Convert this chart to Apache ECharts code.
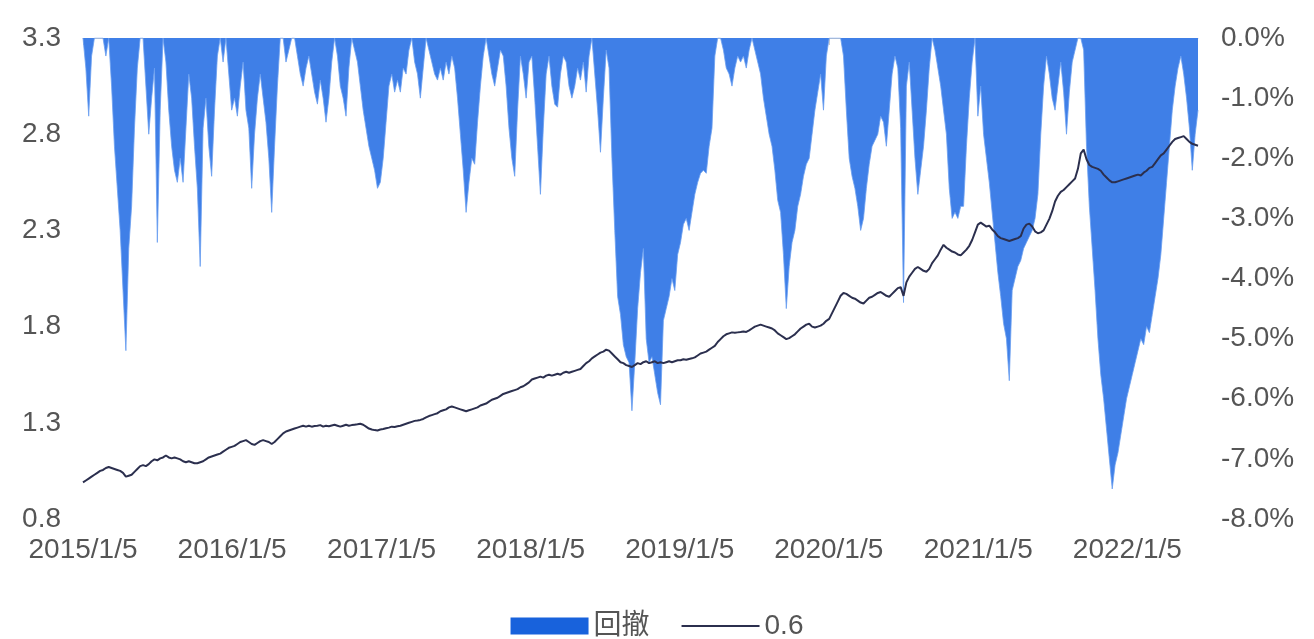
<!DOCTYPE html>
<html><head><meta charset="utf-8">
<script src="https://cdn.jsdelivr.net/npm/echarts@6/dist/echarts.min.js"></script>
<style>html,body{margin:0;padding:0;background:#fff}#c{width:1314px;height:639px}</style>
</head><body><div id="c"></div>
<script>
// weekly observations starting 2015/1/5
const startYear = 2015, startMonth = 1, startDay = 5, stepDays = 7;
const tickLabels = ['2015/1/5','2016/1/5','2017/1/5','2018/1/5','2019/1/5','2020/1/5','2021/1/5','2022/1/5'];
const seriesNames = ['回撤', '0.6'];

const navValues = [
0.99,1.00,1.01,1.02,1.03,1.04,1.05,1.055,1.065,1.07,
1.065,1.06,1.055,1.05,1.04,1.02,1.025,1.03,1.045,1.06,
1.075,1.08,1.075,1.085,1.10,1.11,1.105,1.115,1.12,1.13,
1.12,1.115,1.12,1.115,1.11,1.10,1.095,1.10,1.095,1.09,
1.09,1.095,1.10,1.11,1.12,1.125,1.13,1.135,1.14,1.15,
1.16,1.17,1.175,
1.18,1.19,1.20,1.205,1.21,1.20,1.19,1.185,1.195,1.205,
1.21,1.205,1.20,1.19,1.20,1.215,1.23,1.245,1.255,1.26,
1.265,1.27,1.275,1.28,1.285,1.28,1.285,1.28,1.283,1.285,
1.288,1.28,1.285,1.282,1.286,1.29,1.285,1.28,1.285,1.29,
1.285,1.288,1.29,1.292,1.295,1.29,1.28,1.27,1.265,1.262,
1.26,1.265,
1.268,1.272,1.275,1.28,1.278,1.282,1.285,1.29,1.295,1.30,
1.305,1.31,1.312,1.315,1.32,1.328,1.335,1.34,1.345,1.35,
1.36,1.365,1.37,1.38,1.385,1.38,1.375,1.37,1.365,1.36,
1.365,1.37,1.375,1.38,1.39,1.395,1.40,1.41,1.42,1.425,
1.43,1.44,1.45,1.455,1.46,1.465,1.47,1.475,1.485,1.49,
1.50,1.51,
1.525,1.53,1.535,1.54,1.535,1.545,1.55,1.545,1.55,1.555,
1.55,1.56,1.565,1.56,1.565,1.57,1.575,1.58,1.595,1.61,
1.62,1.635,1.645,1.655,1.665,1.67,1.68,1.675,1.66,1.645,
1.63,1.615,1.61,1.60,1.595,1.59,1.60,1.61,1.605,1.615,
1.62,1.61,1.615,1.62,1.61,1.615,1.61,1.615,1.62,1.615,
1.62,1.625,
1.625,1.63,1.628,1.632,1.635,1.64,1.65,1.66,1.665,1.67,
1.68,1.69,1.70,1.72,1.735,1.75,1.76,1.765,1.77,1.768,
1.77,1.772,1.775,1.772,1.78,1.79,1.80,1.805,1.81,1.805,
1.80,1.795,1.79,1.78,1.765,1.755,1.745,1.735,1.74,1.75,
1.76,1.775,1.79,1.80,1.81,1.815,1.80,1.795,1.80,1.805,
1.815,1.83,
1.84,1.87,1.90,1.93,1.96,1.975,1.97,1.96,1.95,1.945,
1.935,1.925,1.92,1.935,1.95,1.955,1.965,1.975,1.98,1.97,
1.96,1.955,1.97,1.985,2.00,2.005,1.96,2.03,2.06,2.08,
2.10,2.11,2.10,2.09,2.085,2.10,2.13,2.15,2.17,2.20,
2.225,2.21,2.20,2.19,2.185,2.175,2.17,2.185,2.20,2.22,
2.25,2.29,2.33,
2.34,2.33,2.32,2.325,2.305,2.29,2.27,2.26,2.255,2.25,
2.245,2.25,2.255,2.26,2.27,2.31,2.33,2.335,2.32,2.295,
2.285,2.29,2.30,2.33,2.36,2.40,2.45,2.48,2.50,2.51,
2.525,2.54,2.555,2.57,2.62,2.70,2.72,2.67,2.64,2.63,
2.625,2.62,2.61,2.59,2.575,2.56,2.55,2.55,2.555,2.56,
2.565,2.57,
2.575,2.58,2.585,2.59,2.585,2.60,2.61,2.625,2.63,2.65,
2.67,2.69,2.70,2.72,2.74,2.76,2.775,2.78,2.785,2.79,
2.775,2.76,2.75,2.745,2.74
];

// drawdown in percent
const drawdownValues = [
0,-0.5,-1.3,-0.3,0,0,0,0,-0.3,0,
-0.8,-1.8,-2.5,-3.2,-4.2,-5.2,-3.5,-2.8,-1.5,-0.5,
0,0,-0.8,-1.6,-1.0,-0.5,-3.4,-1.2,0,-0.4,
-1.2,-1.8,-2.2,-2.4,-2.0,-2.4,-1.5,-0.6,-1.0,-1.8,
-2.5,-3.8,-1.5,-1.0,-1.8,-2.3,-1.2,-0.3,0,-0.4,
0,-0.6,-1.2,-1.0,-1.3,-0.8,-0.4,-1.2,-1.5,-2.5,
-1.6,-1.0,-0.6,-1.0,-1.4,-2.0,-2.9,-1.8,-0.8,0,
0,-0.4,-0.2,0,0,-0.3,-0.6,-0.8,-0.5,-0.3,
-0.6,-0.9,-1.1,-0.7,-1.0,-1.4,-1.0,-0.4,0,-0.3,
-0.8,-1.0,-1.3,-0.5,0,-0.2,-0.4,-0.8,-1.2,-1.5,
-1.8,-2.0,-2.2,-2.5,-2.4,-2.0,-1.4,-0.8,-0.6,-0.9,
-0.7,-0.9,-0.5,-0.6,-0.2,0,-0.4,-0.6,-1.0,-0.5,
0,-0.2,-0.4,-0.6,-0.7,-0.5,-0.7,-0.4,-0.6,-0.3,
-0.5,-1.0,-1.6,-2.2,-2.9,-2.4,-2.0,-2.1,-1.4,-0.8,
-0.3,0,-0.3,-0.6,-0.8,-0.5,-0.2,-0.3,-0.8,-1.5,
-2.0,-2.3,-1.2,-0.3,-0.6,-1.0,-0.4,-0.3,-1.0,-1.8,
-2.6,-1.5,-0.6,-0.3,-0.8,-1.1,-1.15,-0.6,-0.3,-0.4,
-0.8,-1.0,-0.8,-0.5,-0.7,-0.4,-0.9,-0.3,0,-0.6,
-1.2,-1.9,-1.0,-0.2,-0.5,-2.0,-3.2,-4.3,-4.6,-5.1,
-5.3,-5.4,-6.2,-5.4,-4.5,-3.9,-3.5,-5.0,-5.4,-5.3,
-5.6,-5.9,-6.1,-4.7,-4.5,-4.3,-4.0,-4.2,-3.6,-3.4,
-3.1,-3.0,-3.2,-2.9,-2.6,-2.4,-2.25,-2.2,-2.25,-1.8,
-1.5,-0.3,0,0,-0.2,-0.5,-0.6,-0.8,-0.5,-0.3,
-0.4,-0.3,-0.5,-0.2,0,-0.2,-0.4,-0.6,-1.0,-1.3,
-1.6,-1.8,-2.2,-2.7,-2.9,-3.6,-4.5,-3.8,-3.4,-3.2,
-2.8,-2.6,-2.3,-2.1,-2.0,-1.6,-1.2,-0.9,-0.6,-1.2,
-0.3,0,0,0,0,0,-0.3,-1.2,-2.0,-2.3,
-2.5,-2.8,-3.2,-3.0,-2.5,-2.1,-1.8,-1.7,-1.6,-1.3,
-1.4,-1.8,-1.2,-0.6,-0.3,-0.5,-1.5,-4.4,-0.8,-0.4,
-1.2,-2.0,-2.6,-2.2,-1.8,-1.2,-0.5,0,-0.2,-0.5,
-0.8,-1.2,-1.6,-2.5,-3.0,-2.9,-3.0,-2.8,-2.8,-1.8,
-1.0,-0.4,0,-1.3,-0.8,-1.6,-2.0,-2.4,-2.9,-3.4,
-3.9,-4.3,-4.75,-5.0,-5.7,-4.2,-4.0,-3.8,-3.7,-3.5,
-3.4,-3.3,-3.2,-3.0,-2.6,-1.6,-0.8,-0.3,-0.6,-1.0,
-1.2,-0.8,-0.4,-0.9,-1.6,-0.9,-0.4,-0.2,0,0,
-0.2,-1.8,-2.8,-3.5,-4.2,-5.0,-5.6,-6.0,-6.5,-7.0,
-7.5,-7.1,-6.9,-6.6,-6.3,-6.0,-5.8,-5.6,-5.4,-5.2,
-5.0,-5.1,-4.8,-4.9,-4.6,-4.3,-4.0,-3.6,-3.0,-2.4,
-1.8,-1.2,-0.8,-0.5,-0.3,-0.6,-1.0,-1.5,-2.2,-1.6,
-1.2
];

function dateAt(i) { return new Date(startYear, startMonth - 1, startDay + stepDays * i).getTime(); }
function parseLabel(s) { const p = s.split('/').map(Number); return new Date(p[0], p[1] - 1, p[2]).getTime(); }
function fmt(ts) { const d = new Date(ts); return d.getFullYear() + '/' + (d.getMonth() + 1) + '/' + d.getDate(); }

const navData = navValues.map((v, i) => [dateAt(i), v]);
const ddData = drawdownValues.map((v, i) => [dateAt(i), v]);
const tickTs = tickLabels.map(parseLabel);

const FONT = '"Liberation Sans", Arial, "Noto Sans CJK SC", sans-serif';
const chart = echarts.init(document.getElementById('c'), null, { renderer: 'canvas' });
chart.setOption({
  animation: false,
  backgroundColor: '#ffffff',
  textStyle: { fontFamily: FONT },
  grid: { left: 83, right: 116, top: 38, bottom: 120, containLabel: false },
  legend: {
    left: 'center', top: 607,
    itemWidth: 78, itemHeight: 17, itemGap: 32,
    textStyle: { fontSize: 28, color: '#555', fontFamily: FONT },
    data: [
      { name: seriesNames[0], icon: 'rect' },
      { name: seriesNames[1], icon: 'path://M0,0H100V2.6H0Z' }
    ]
  },
  xAxis: {
    type: 'value',
    min: dateAt(0), max: dateAt(navValues.length - 1),
    axisLine: { show: true, lineStyle: { color: '#cccccc', width: 1 } },
    axisTick: { show: true, customValues: tickTs, length: 7, lineStyle: { color: '#cccccc' } },
    axisLabel: { customValues: tickTs, formatter: fmt, fontSize: 28, color: '#555', margin: 17, fontFamily: FONT },
    splitLine: { show: false }
  },
  yAxis: [
    {
      type: 'value', min: 0.8, max: 3.3, interval: 0.5,
      axisLine: { show: false }, axisTick: { show: false }, splitLine: { show: false },
      axisLabel: { formatter: v => v.toFixed(1), fontSize: 28, color: '#555', margin: 22, fontFamily: FONT }
    },
    {
      type: 'value', min: -8, max: 0, interval: 1,
      axisLine: { show: false }, axisTick: { show: false }, splitLine: { show: false },
      axisLabel: { formatter: v => v.toFixed(1) + '%', fontSize: 28, color: '#555', margin: 23, fontFamily: FONT }
    }
  ],
  series: [
    {
      name: seriesNames[0], type: 'line', yAxisIndex: 1, data: ddData,
      symbol: 'none', showSymbol: false,
      itemStyle: { color: '#1862dc' },
      lineStyle: { width: 0.8, color: '#6a9ef0' },
      areaStyle: { color: '#3f7fe7', opacity: 1 },
      z: 1
    },
    {
      name: seriesNames[1], type: 'line', yAxisIndex: 0, data: navData,
      symbol: 'none', showSymbol: false,
      itemStyle: { color: '#2b2f4e' },
      lineStyle: { width: 2, color: '#2b2f4e' },
      z: 3
    }
  ]
});
</script>
</body></html>
